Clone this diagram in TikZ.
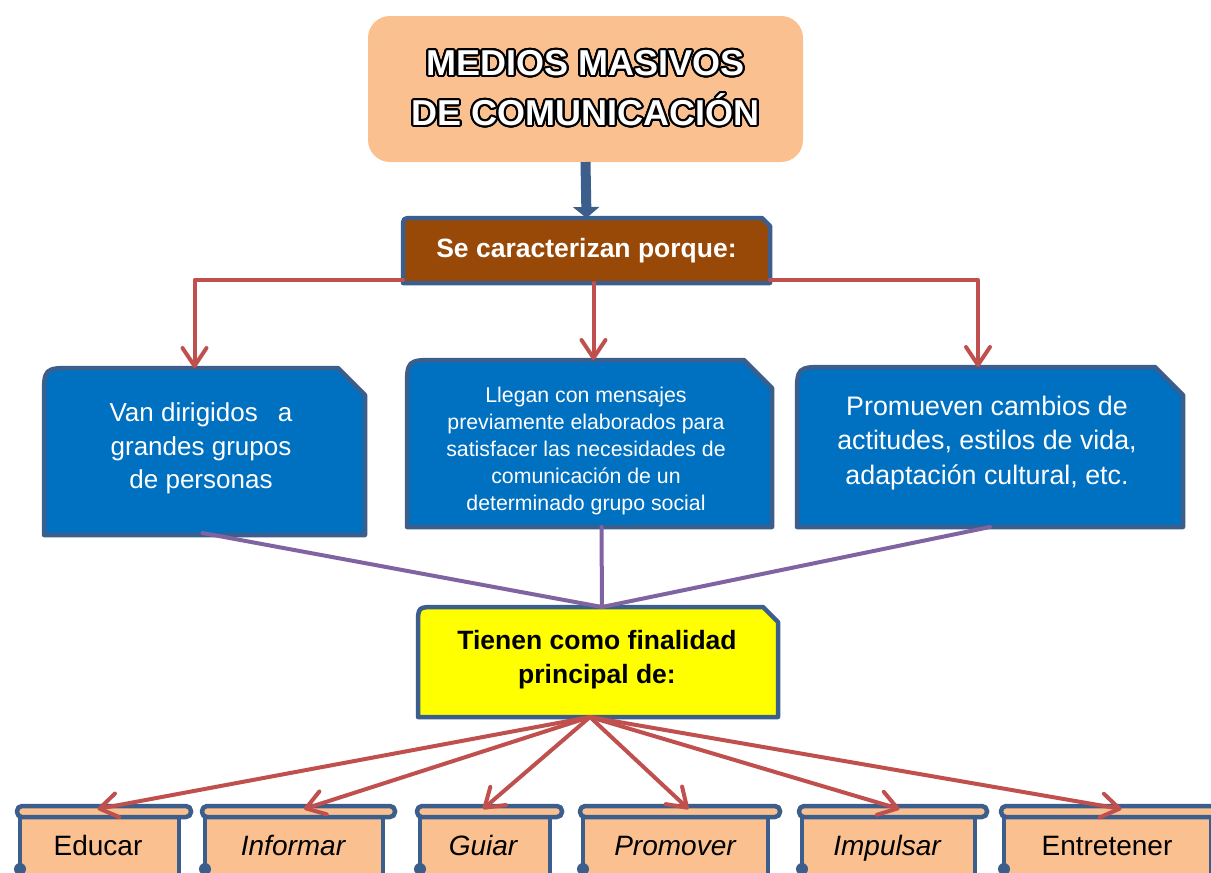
\documentclass[tikz,border=0pt]{standalone}
\usepackage{fontspec}
\setmainfont{Liberation Sans}
\usepackage{contour}
\contourlength{1.7pt}
\contournumber{32}
\usetikzlibrary{arrows.meta,calc}
\definecolor{peach}{HTML}{FAC090}
\definecolor{brownbox}{HTML}{984807}
\definecolor{bborder}{HTML}{3C5E8C}
\definecolor{bluefill}{HTML}{0070C0}
\definecolor{redline}{HTML}{C0504D}
\definecolor{purpleline}{HTML}{8064A2}
\definecolor{yellowbox}{HTML}{FFFF00}
\pgfdeclarelayer{shapes}
\pgfsetlayers{shapes,main}
% #1 node, #2 corner radius, #3 snip, #4 style
\newcommand{\snipshape}[4]{%
  \path[#4] (#1.south west) -- ($(#1.north west)+(0,#2)$) .. controls (#1.north west) .. ($(#1.north west)+(#2,0)$)
    -- ($(#1.north east)+(-#3,0)$) -- ($(#1.north east)+(0,#3)$) -- (#1.south east) -- cycle;}
\newcommand{\scrollbox}[1]{%
  \path[fill=peach,frame] ($(#1.north west)+(0,6)$) rectangle (#1.south east);
  \path[fill=peach,frame,rounded corners=5pt] ($(#1.north west)+(-3,0)$) rectangle ($(#1.north east)+(12,11)$);
  \fill[bborder] ($(#1.south west)+(0,-15)$) circle (6pt);}
\begin{document}
\begin{tikzpicture}[x=1pt,y=-1pt,
  box/.style={inner sep=0pt,outer sep=0pt,align=center},
  frame/.style={draw=bborder,line width=4.5pt,line join=round},
  redarrow/.style={draw=redline,line width=4pt,line cap=round,line join=round,
    -{Straight Barb[length=18pt,width=24pt,line width=4pt,round]}},
  violetlink/.style={draw=purpleline,line width=4pt,line cap=round},
  bluetext/.style={box,text=white},
  scrolltext/.style={box,anchor=base,font=\fontsize{28}{30}\selectfont}
]
\useasboundingbox (0,0) rectangle (1211,873);

% title
\node[box,fill=peach,rounded corners=22pt,minimum width=435pt,minimum height=146pt,
  text=white,font=\fontsize{36}{50}\selectfont\bfseries] (title) at (585.5,89)
  {\contour{black}{MEDIOS MASIVOS}\\\contour{black}{DE COMUNICACIÓN}};

% second level
\node[box,minimum width=367pt,minimum height=65pt,text=white,
  font=\fontsize{26.5}{30}\selectfont\bfseries] (brown) at (586.5,250.5) {Se caracterizan porque:};

% blue boxes (frames)
\node[box,minimum width=321pt,minimum height=167pt] (left) at (204.5,451.5) {};
\node[box,minimum width=365pt,minimum height=167pt] (mid) at (589.5,443.5) {};
\node[box,minimum width=386pt,minimum height=160pt] (right) at (990,447) {};
% blue box texts
\node[bluetext,font=\fontsize{26}{33.5}\selectfont] (lefttext) at (201,448.5)
  {Van dirigidos\hspace{20pt}a\\grandes grupos\\de personas};
\node[bluetext,font=\fontsize{21.3}{26.8}\selectfont] (midtext) at (586,451)
  {Llegan con mensajes\\previamente elaborados para\\satisfacer las necesidades de\\comunicación de un\\determinado grupo social};
\node[bluetext,font=\fontsize{26.8}{34.5}\selectfont] (righttext) at (987,443)
  {Promueven cambios de\\actitudes, estilos de vida,\\adaptación cultural, etc.};

% yellow box
\node[box,minimum width=360pt,minimum height=110pt] (yellow) at (598,662) {};
\node[box,font=\fontsize{26.5}{34}\selectfont\bfseries] (yellowtext) at (597,660)
  {Tienen como finalidad\\principal de:};

% bottom scroll boxes (frames)
\node[box,minimum width=159pt,minimum height=78pt] (b1) at (99.5,845) {};
\node[box,minimum width=178pt,minimum height=78pt] (b2) at (294,845) {};
\node[box,minimum width=130pt,minimum height=78pt] (b3) at (485,845) {};
\node[box,minimum width=185pt,minimum height=78pt] (b4) at (675.5,845) {};
\node[box,minimum width=173pt,minimum height=78pt] (b5) at (888.5,845) {};
\node[box,minimum width=207pt,minimum height=78pt] (b6) at (1107.5,845) {};
% bottom texts
\node[scrolltext] (t1) at (98,855) {Educar};
\node[scrolltext] (t2) at (293,855) {\itshape Informar};
\node[scrolltext] (t3) at (483,855) {\itshape Guiar};
\node[scrolltext] (t4) at (675,855) {\itshape Promover};
\node[scrolltext] (t5) at (887,855) {\itshape Impulsar};
\node[scrolltext] (t6) at (1107,855) {Entretener};

\begin{pgfonlayer}{shapes}
  \snipshape{brown}{10}{8}{fill=brownbox,frame}
  \snipshape{left}{30}{27}{fill=bluefill,frame}
  \snipshape{mid}{30}{28}{fill=bluefill,frame}
  \snipshape{right}{30}{28}{fill=bluefill,frame}
  \snipshape{yellow}{18}{15}{fill=yellowbox,frame}
  \scrollbox{b1}\scrollbox{b2}\scrollbox{b3}\scrollbox{b4}\scrollbox{b5}\scrollbox{b6}
\end{pgfonlayer}

% blue arrow
\draw[bborder,line width=10pt,-{Triangle[length=11pt,width=26pt]}] (title.south) -- (brown.north);

% red connectors from brown box
\draw[redarrow] ($(brown.south west)+(0,-3)$) -| ($(left.north)+(-10,0)$);
\draw[redarrow] ($(brown.south)+(7,0)$) coordinate (m1) -- (m1 |- mid.north);
\draw[redarrow] ($(brown.south east)+(0,-3)$) -| ($(right.north)+(-12,0)$);

% purple links
\draw[violetlink] ($(left.south)+(-2,-2)$) -- ($(yellow.north)+(4,0)$);
\draw[violetlink] ($(mid.south)+(12,0)$) -- ($(yellow.north)+(4,0)$);
\draw[violetlink] (right.south) -- ($(yellow.north)+(4,0)$);

% red arrows to bottom boxes
\coordinate (src) at ($(yellow.south)+(-8,0)$);
\draw[redarrow] (src) -- ($(b1.north)+(-2,3)$);
\draw[redarrow] (src) -- ($(b2.north)+(10,3)$);
\draw[redarrow] (src) -- ($(b3.north)+(-2,3)$);
\draw[redarrow] (src) -- ($(b4.north)+(13,3)$);
\draw[redarrow] (src) -- ($(b5.north)+(11,3)$);
\draw[redarrow] (src) -- ($(b6.north)+(14,3)$);
\end{tikzpicture}
\end{document}
